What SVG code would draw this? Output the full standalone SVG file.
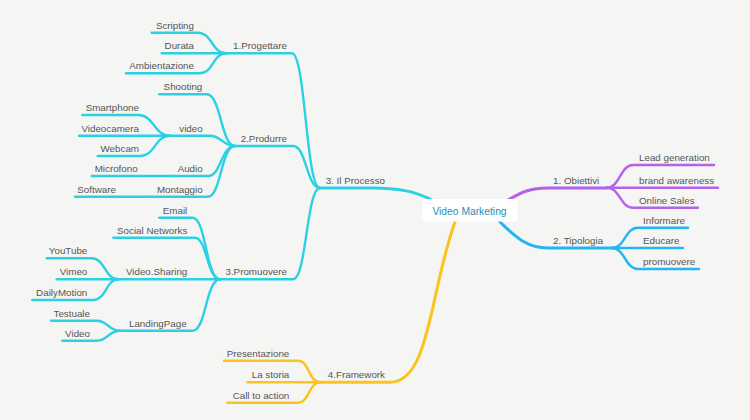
<svg xmlns="http://www.w3.org/2000/svg" width="750" height="420" viewBox="0 0 750 420">
<style>
.t{font-family:"Liberation Sans",Arial,sans-serif;font-size:9.8px;fill:#555}
.l{text-anchor:end}
.c{fill:none;stroke-linecap:round;stroke-linejoin:round}
.cy{stroke:#2bd0e3}
.pu{stroke:#b462e8}
.bl{stroke:#25b4f2}
.ye{stroke:#fbc31c}
.m{stroke-width:3}
.s{stroke-width:2.4}
</style>
<rect width="750" height="420" fill="#f5f6f4"/>
<g id="connectors">
<!-- main branches -->
<path class="c cy m" d="M320,188 H372 C398,188 414,191 432,200"/>
<path class="c pu m" d="M508,200 C522,192 530,188 548,188 H607"/>
<path class="c bl m" d="M500,222 C515,236 526,248 548,248 H612"/>
<path class="c ye m" d="M455,222 C430,290 430,382.3 390,382.3 H320"/>
<!-- Il Processo -->
<path class="c cy s" d="M320,188 C305.8,188 305.8,53.3 291.7,53.3 H226"/>
<path class="c cy s" d="M320,188 C306.5,188 306.5,146 293,146 H235"/>
<path class="c cy s" d="M320,188 C306.5,188 306.5,279.3 293,279.3 H220"/>
<!-- Progettare -->
<path class="c cy s" d="M226,53.3 C212,53.3 212,32.7 198,32.7 H151.7"/>
<path class="c cy s" d="M226,53.3 H161.7"/>
<path class="c cy s" d="M226,53.3 C213,53.3 213,73.3 200,73.3 H126"/>
<!-- Produrre -->
<path class="c cy s" d="M235,146 C221,146 221,94.3 206.7,94.3 H159.3"/>
<path class="c cy s" d="M235,146 C222,146 222,135.7 210,135.7 H170"/>
<path class="c cy s" d="M170,135.7 C154,135.7 154,115 138.3,115 H82.3"/>
<path class="c cy s" d="M170,135.7 H79"/>
<path class="c cy s" d="M170,135.7 C155,135.7 155,156 140,156 H97.7"/>
<path class="c cy s" d="M235,146 C221,146 221,176 208.3,176 H172"/>
<path class="c cy s" d="M172,176 H91.7"/>
<path class="c cy s" d="M235,146 C221,146 221,196.7 208,196.7 H150"/>
<path class="c cy s" d="M150,196.7 H75"/>
<!-- Promuovere -->
<path class="c cy s" d="M220,279.3 C206,279.3 206,217.7 192.7,217.7 H159.3"/>
<path class="c cy s" d="M220,279.3 C207,279.3 207,237.7 195,237.7 H113.3"/>
<path class="c cy s" d="M220,279.3 H118.3"/>
<path class="c cy s" d="M118.3,279.3 C105,279.3 105,258.3 91.7,258.3 H46.7"/>
<path class="c cy s" d="M118.3,279.3 H56.7"/>
<path class="c cy s" d="M118.3,279.3 C106,279.3 106,300 93.3,300 H32.3"/>
<path class="c cy s" d="M220,279.3 C206,279.3 206,330.7 192.7,330.7 H120"/>
<path class="c cy s" d="M120,330.7 C108,330.7 108,320.7 96.7,320.7 H51"/>
<path class="c cy s" d="M120,330.7 C108,330.7 108,340.7 96.7,340.7 H62.3"/>
<!-- Framework -->
<path class="c ye s" d="M320,382.3 C309,382.3 309,360.7 298.3,360.7 H224"/>
<path class="c ye s" d="M320,382.3 H247.7"/>
<path class="c ye s" d="M320,382.3 C309,382.3 309,402.7 298.3,402.7 H227.3"/>
<!-- Obiettivi -->
<path class="c pu s" d="M607,187.7 C620,187.7 620,165 633,165 H714"/>
<path class="c pu s" d="M607,187.7 H718"/>
<path class="c pu s" d="M607,187.7 C620,187.7 620,207.7 633,207.7 H698"/>
<!-- Tipologia -->
<path class="c bl s" d="M612,248 C625,248 625,227.7 638,227.7 H688"/>
<path class="c bl s" d="M612,248 H683"/>
<path class="c bl s" d="M612,248 C625,248 625,269 638,269 H699"/>
</g>
<g id="center">
<rect x="422.5" y="199" width="95" height="22.5" rx="3" fill="#ffffff"/>
<text x="469.5" y="214.5" text-anchor="middle" style="font-family:'Liberation Sans',Arial,sans-serif;font-size:10.3px;fill:#2a8fb6">Video Marketing</text>
</g>
<g id="n-processo"><text class="t l" x="385" y="184">3. Il Processo</text></g>
<g id="n-progettare"><text class="t l" x="287" y="49.3">1.Progettare</text></g>
<g id="n-scripting"><text class="t l" x="194" y="28.7">Scripting</text></g>
<g id="n-durata"><text class="t l" x="194" y="49">Durata</text></g>
<g id="n-ambientazione"><text class="t l" x="194" y="69.3">Ambientazione</text></g>
<g id="n-produrre"><text class="t l" x="287" y="142">2.Produrre</text></g>
<g id="n-shooting"><text class="t l" x="202.3" y="90.3">Shooting</text></g>
<g id="n-video"><text class="t l" x="202.7" y="131.7">video</text></g>
<g id="n-smartphone"><text class="t l" x="139" y="111">Smartphone</text></g>
<g id="n-videocamera"><text class="t l" x="139" y="131.7">Videocamera</text></g>
<g id="n-webcam"><text class="t l" x="139" y="152">Webcam</text></g>
<g id="n-audio"><text class="t l" x="202.7" y="172">Audio</text></g>
<g id="n-microfono"><text class="t l" x="137.7" y="172">Microfono</text></g>
<g id="n-montaggio"><text class="t l" x="202.7" y="192.7">Montaggio</text></g>
<g id="n-software"><text class="t l" x="116" y="192.7">Software</text></g>
<g id="n-promuovere"><text class="t l" x="287" y="275.3">3.Promuovere</text></g>
<g id="n-email"><text class="t l" x="187.3" y="213.7">Email</text></g>
<g id="n-social"><text class="t l" x="187.3" y="233.7">Social Networks</text></g>
<g id="n-videosharing"><text class="t l" x="187.3" y="275.3">Video.Sharing</text></g>
<g id="n-youtube"><text class="t l" x="87.3" y="254.3">YouTube</text></g>
<g id="n-vimeo"><text class="t l" x="87.3" y="275.3">Vimeo</text></g>
<g id="n-dailymotion"><text class="t l" x="87.3" y="296">DailyMotion</text></g>
<g id="n-landingpage"><text class="t l" x="186.7" y="326.7">LandingPage</text></g>
<g id="n-testuale"><text class="t l" x="90" y="316.7">Testuale</text></g>
<g id="n-videolp"><text class="t l" x="90" y="336.7">Video</text></g>
<g id="n-framework"><text class="t l" x="385" y="378.3">4.Framework</text></g>
<g id="n-presentazione"><text class="t l" x="289.3" y="356.7">Presentazione</text></g>
<g id="n-storia"><text class="t l" x="289.3" y="378.3">La storia</text></g>
<g id="n-cta"><text class="t l" x="289.3" y="398.7">Call to action</text></g>
<g id="n-obiettivi"><text class="t" x="553" y="183.7">1. Obiettivi</text></g>
<g id="n-lead"><text class="t" x="639" y="161">Lead generation</text></g>
<g id="n-brand"><text class="t" x="639" y="183.7">brand awareness</text></g>
<g id="n-online"><text class="t" x="639" y="203.7">Online Sales</text></g>
<g id="n-tipologia"><text class="t" x="553" y="244">2. Tipologia</text></g>
<g id="n-informare"><text class="t" x="643" y="223.7">Informare</text></g>
<g id="n-educare"><text class="t" x="643" y="244">Educare</text></g>
<g id="n-promuovere2"><text class="t" x="643" y="265">promuovere</text></g>
</svg>
